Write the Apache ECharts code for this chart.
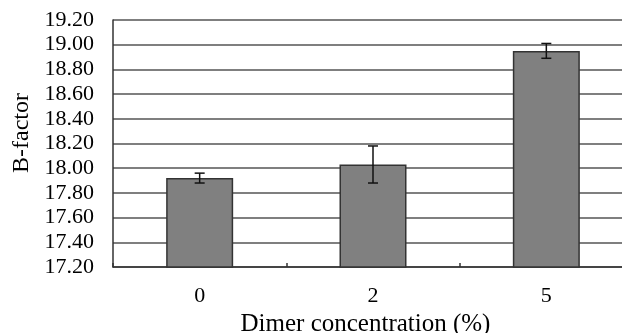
<!DOCTYPE html>
<html>
<head>
<meta charset="utf-8">
<script src="https://cdn.jsdelivr.net/npm/echarts@6/dist/echarts.min.js"></script>
<style>html,body{margin:0;padding:0;background:#fff}#c{width:622px;height:333px}</style>
</head>
<body>
<div id="c"></div>
<script>
var categories = ['0', '2', '5'];
var values = [17.92, 18.03, 18.95];
var errors = [0.04, 0.15, 0.06];
var yTicks = [17.2, 19.2, 0.2]; // min, max, interval

var errData = categories.map(function (c, i) {
  return [i, values[i] - errors[i], values[i] + errors[i]];
});

var chart = echarts.init(document.getElementById('c'), null, {renderer: 'canvas'});
var font = '"Liberation Serif", "Times New Roman", serif';
chart.setOption({
  animation: false,
  grid: {left: 113, top: 20, bottom: 66, width: 520, containLabel: false, outerBoundsMode: 'none'},
  graphic: [{
    type: 'text',
    x: 22, y: 133,
    rotation: Math.PI / 2,
    style: {text: 'B-factor', fontFamily: font, fontSize: 24, fill: '#000', align: 'center', verticalAlign: 'middle'}
  }],
  xAxis: {
    type: 'category',
    data: categories,
    name: 'Dimer concentration (%)',
    nameLocation: 'middle',
    nameGap: 44,
    nameTextStyle: {fontFamily: font, fontSize: 25, color: '#000', padding: [0, 15, 0, 0]},
    axisLine: {lineStyle: {color: '#333', width: 1.5}},
    axisTick: {show: true, inside: true, length: 4, lineStyle: {color: '#333', width: 1.5}},
    axisLabel: {fontFamily: font, fontSize: 22, color: '#000', margin: 18},
    splitLine: {show: false}
  },
  yAxis: {
    type: 'value',
    min: yTicks[0],
    max: yTicks[1],
    interval: yTicks[2],
    axisLine: {show: true, lineStyle: {color: '#333', width: 1.5}},
    axisTick: {show: false},
    axisLabel: {fontFamily: font, fontSize: 22, color: '#000', margin: 19,
      formatter: function (v) { return v.toFixed(2); }},
    splitLine: {show: true, lineStyle: {color: '#555', width: 1.5}}
  },
  series: [
    {
      type: 'bar',
      data: values,
      barWidth: 67,
      itemStyle: {color: '#808080', borderColor: '#333', borderWidth: 1.5},
      z: 2
    },
    {
      type: 'custom',
      data: errData,
      encode: {x: 0, y: [1, 2]},
      z: 5,
      renderItem: function (params, api) {
        var x = api.value(0);
        var lo = api.coord([x, api.value(1)]);
        var hi = api.coord([x, api.value(2)]);
        var hw = 5;
        var st = {stroke: '#111', lineWidth: 1.5};
        return {
          type: 'group',
          children: [
            {type: 'line', shape: {x1: lo[0], y1: lo[1], x2: hi[0], y2: hi[1]}, style: st},
            {type: 'line', shape: {x1: lo[0] - hw, y1: lo[1], x2: lo[0] + hw, y2: lo[1]}, style: st},
            {type: 'line', shape: {x1: hi[0] - hw, y1: hi[1], x2: hi[0] + hw, y2: hi[1]}, style: st}
          ]
        };
      }
    }
  ]
});
</script>
</body>
</html>
